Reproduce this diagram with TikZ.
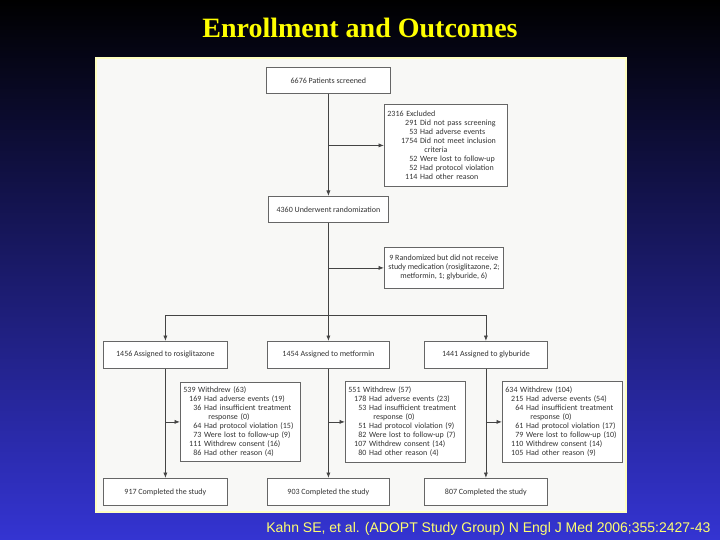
\documentclass[tikz,border=0pt]{standalone}
\usepackage{fontspec}
\setmainfont{Liberation Serif}
\newfontfamily\flowfont{Carlito}
\newfontfamily\citefont{Liberation Sans}
\usetikzlibrary{arrows.meta}
\definecolor{slidetop}{HTML}{000000}
\definecolor{slidebot}{HTML}{3434D2}
\definecolor{titleyel}{HTML}{FFFF00}
\definecolor{citeyel}{HTML}{FFFF70}
\definecolor{panel}{HTML}{F8F8F6}
\definecolor{panelrim}{HTML}{FFFFC0}
\definecolor{boxline}{HTML}{666666}
\definecolor{boxtext}{HTML}{333333}
\definecolor{flowline}{HTML}{444444}
\newlength{\numw}
\newcommand{\entry}[2]{\makebox[\numw][r]{#1}\ #2}
\newcommand{\wrapon}[1]{\hspace*{\numw}\hspace*{7pt}#1}
\tikzset{
  box/.style={draw=boxline,fill=white,line width=0.8pt,text=boxtext,anchor=north west,
    inner sep=3pt,font=\flowfont\fontsize{8}{9}\selectfont},
  listbox/.style={box,align=left,text width=#1},
  exclbox/.style={listbox=117pt,execute at begin node={\setlength{\numw}{30pt}}},
  quitbox/.style={listbox=#1,execute at begin node={\setlength{\numw}{18pt}}},
  arr/.style={draw=flowline,line width=0.8pt,-{Latex[length=5.5pt,width=4.2pt]}},
  link/.style={draw=flowline,line width=0.8pt}
}

\begin{document}
\begin{tikzpicture}[x=1pt,y=-1pt]
  \useasboundingbox (0,0) rectangle (720,540);
  % ---- slide background ----
  \shade[top color=slidetop,bottom color=slidebot] (0,0) rectangle (720,540);
  \node[font=\bfseries\fontsize{28}{32}\selectfont,text=titleyel] (title) at (360,28) {Enrollment and Outcomes};
  % ---- figure panel ----
  \fill[panel] (96,58) rectangle (626,512);
  \draw[panelrim,line width=1.5pt] (96,58) rectangle (626,512);

  % ---- screening and randomization ----
  \node[box,minimum width=124pt,minimum height=26pt] (screen) at (266,67) {6676 Patients screened};
  \node[exclbox,minimum height=82pt] (excl) at (384,104) {2316 Excluded\\
    \entry{291}{Did not pass screening}\\
    \entry{53}{Had adverse events}\\
    \entry{1754}{Did not meet inclusion}\\
    \wrapon{criteria}\\
    \entry{52}{Were lost to follow-up}\\
    \entry{52}{Had protocol violation}\\
    \entry{114}{Had other reason}};
  \node[box,minimum width=120pt,minimum height=26pt] (rand) at (268,196) {4360 Underwent randomization};
  \node[box,align=center,minimum width=119pt,minimum height=41pt] (nine) at (384,247)
    {9 Randomized but did not receive\\study medication (rosiglitazone, 2;\\metformin, 1; glyburide, 6)};

  % ---- assigned groups ----
  \node[box,minimum width=124pt,minimum height=27pt] (rosi) at (103,341) {1456 Assigned to rosiglitazone};
  \node[box,minimum width=122pt,minimum height=27pt] (metf) at (267,341) {1454 Assigned to metformin};
  \node[box,minimum width=123pt,minimum height=27pt] (glyb) at (424,341) {1441 Assigned to glyburide};

  % ---- withdrawals ----
  \node[quitbox=114pt,minimum height=79pt] (wrosi) at (180,382) {539 Withdrew (63)\\
    \entry{169}{Had adverse events (19)}\\
    \entry{36}{Had insufficient treatment}\\
    \wrapon{response (0)}\\
    \entry{64}{Had protocol violation (15)}\\
    \entry{73}{Were lost to follow-up (9)}\\
    \entry{111}{Withdrew consent (16)}\\
    \entry{86}{Had other reason (4)}};
  \node[quitbox=114pt,minimum height=81pt] (wmetf) at (345,381) {551 Withdrew (57)\\
    \entry{178}{Had adverse events (23)}\\
    \entry{53}{Had insufficient treatment}\\
    \wrapon{response (0)}\\
    \entry{51}{Had protocol violation (9)}\\
    \entry{82}{Were lost to follow-up (7)}\\
    \entry{107}{Withdrew consent (14)}\\
    \entry{80}{Had other reason (4)}};
  \node[quitbox=114pt,minimum height=81pt] (wglyb) at (502,381) {634 Withdrew (104)\\
    \entry{215}{Had adverse events (54)}\\
    \entry{64}{Had insufficient treatment}\\
    \wrapon{response (0)}\\
    \entry{61}{Had protocol violation (17)}\\
    \entry{79}{Were lost to follow-up (10)}\\
    \entry{110}{Withdrew consent (14)}\\
    \entry{105}{Had other reason (9)}};

  % ---- completers ----
  \node[box,minimum width=124pt,minimum height=27pt] (crosi) at (103,478) {917 Completed the study};
  \node[box,minimum width=122pt,minimum height=27pt] (cmetf) at (267,478) {903 Completed the study};
  \node[box,minimum width=123pt,minimum height=27pt] (cglyb) at (424,478) {807 Completed the study};

  % ---- connectors ----
  \coordinate (split) at (0,315);
  \draw[arr] (screen.south) -- (screen.south |- rand.north);
  \draw[arr] (screen.south |- excl.west) -- (excl.west);
  \draw[link] (rand.south) -- (rand.south |- split);
  \draw[arr] (rand.south |- nine.west) -- (nine.west);
  \draw[link] (rosi.north |- split) -- (glyb.north |- split);
  \foreach \g in {rosi,metf,glyb}{
    \draw[arr] (\g.north |- split) -- (\g.north);
    \draw[arr] (\g.south) -- (c\g.north);
    \draw[arr] (\g.south |- w\g.west) -- (w\g.west);
  }

  \node[font=\citefont\fontsize{14}{16}\selectfont,text=citeyel,anchor=east] (cite) at (714,529)
    {Kahn SE, et al. (ADOPT Study Group) N Engl J Med 2006;355:2427-43};
\end{tikzpicture}
\end{document}
